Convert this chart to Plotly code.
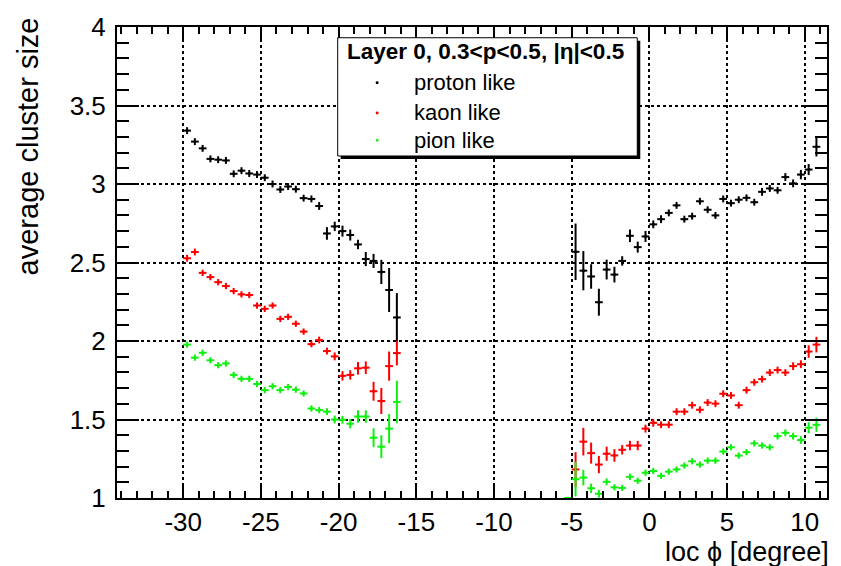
import plotly.graph_objects as go

# ---------------- data ----------------
phi_left = [-29.75, -29.25, -28.75, -28.25, -27.75, -27.25, -26.75, -26.25, -25.75, -25.25,
            -24.75, -24.25, -23.75, -23.25, -22.75, -22.25, -21.75, -21.25, -20.75, -20.25,
            -19.75, -19.25, -18.75, -18.25, -17.75, -17.25, -16.75, -16.25]
phi_right = [-4.75, -4.25, -3.75, -3.25, -2.75, -2.25, -1.75, -1.25, -0.75, -0.25,
             0.25, 0.75, 1.25, 1.75, 2.25, 2.75, 3.25, 3.75, 4.25, 4.75,
             5.25, 5.75, 6.25, 6.75, 7.25, 7.75, 8.25, 8.75, 9.25, 9.75, 10.25, 10.75]
phi_right_pion = [-5.25, -4.75, -4.25, -3.75, -3.25, -2.75, -2.25, -1.75, -1.25, -0.75, -0.25,
                  0.25, 0.75, 1.25, 1.75, 2.25, 2.75, 3.25, 3.75, 4.25, 4.75,
                  5.25, 5.75, 6.25, 6.75, 7.25, 7.75, 8.25, 8.75, 9.25, 9.75, 10.25, 10.75]

proton_left = [3.34, 3.27, 3.227, 3.16, 3.155, 3.15, 3.065, 3.085, 3.067, 3.06,
               3.04, 3.00, 2.965, 2.984, 2.967, 2.91, 2.905, 2.86, 2.685, 2.73,
               2.70, 2.675, 2.615, 2.522, 2.51, 2.44, 2.325, 2.15]
proton_left_err = [0.022, 0.022, 0.022, 0.022, 0.022, 0.022, 0.022, 0.022, 0.022, 0.022,
                   0.022, 0.022, 0.022, 0.022, 0.022, 0.022, 0.022, 0.025, 0.04, 0.03,
                   0.035, 0.035, 0.03, 0.045, 0.045, 0.077, 0.14, 0.155]
proton_right = [2.568, 2.448, 2.411, 2.247, 2.455, 2.423, 2.51, 2.67, 2.598, 2.666,
                2.743, 2.776, 2.816, 2.864, 2.776, 2.795, 2.89, 2.836, 2.80, 2.905,
                2.878, 2.90, 2.912, 2.884, 2.95, 2.972, 2.96, 3.044, 3.004, 3.06, 3.092, 3.237]
proton_right_err = [0.18, 0.125, 0.078, 0.086, 0.063, 0.05, 0.03, 0.04, 0.035, 0.035,
                    0.025, 0.025, 0.022, 0.022, 0.022, 0.022, 0.022, 0.022, 0.022, 0.022,
                    0.022, 0.022, 0.022, 0.022, 0.025, 0.022, 0.022, 0.025, 0.025, 0.03, 0.035, 0.062]

kaon_left = [2.527, 2.567, 2.434, 2.407, 2.375, 2.35, 2.318, 2.297, 2.293, 2.226,
             2.205, 2.226, 2.141, 2.154, 2.11, 2.06, 1.98, 2.006, 1.936, 1.902,
             1.778, 1.784, 1.826, 1.83, 1.68, 1.618, 1.84, 1.923]
kaon_left_err = [0.022, 0.022, 0.02, 0.02, 0.02, 0.02, 0.02, 0.02, 0.02, 0.02,
                 0.02, 0.02, 0.02, 0.02, 0.02, 0.02, 0.02, 0.022, 0.022, 0.025,
                 0.03, 0.03, 0.04, 0.04, 0.06, 0.083, 0.093, 0.078]
kaon_right = [1.182, 1.359, 1.286, 1.213, 1.282, 1.271, 1.307, 1.334, 1.334, 1.442,
              1.479, 1.467, 1.467, 1.55, 1.55, 1.591, 1.562, 1.608, 1.601, 1.664,
              1.653, 1.591, 1.687, 1.737, 1.757, 1.799, 1.815, 1.799, 1.84, 1.852, 1.933, 1.977]
kaon_right_err = [0.11, 0.088, 0.067, 0.055, 0.045, 0.04, 0.03, 0.03, 0.03, 0.025,
                  0.025, 0.022, 0.022, 0.022, 0.022, 0.022, 0.022, 0.022, 0.022, 0.022,
                  0.022, 0.022, 0.022, 0.022, 0.022, 0.022, 0.022, 0.022, 0.025, 0.025, 0.04, 0.05]

pion_left = [1.977, 1.894, 1.925, 1.877, 1.846, 1.857, 1.784, 1.759, 1.759, 1.726,
             1.687, 1.712, 1.687, 1.707, 1.69, 1.666, 1.57, 1.56, 1.55, 1.50,
             1.498, 1.473, 1.519, 1.519, 1.384, 1.327, 1.442, 1.612]
pion_left_err = [0.02, 0.02, 0.02, 0.02, 0.02, 0.02, 0.02, 0.02, 0.02, 0.02,
                 0.02, 0.02, 0.02, 0.02, 0.02, 0.02, 0.02, 0.02, 0.022, 0.025,
                 0.025, 0.03, 0.04, 0.04, 0.06, 0.073, 0.093, 0.135]
pion_right = [1.0, 1.12, 1.13, 1.062, 1.027, 1.103, 1.068, 1.064, 1.135, 1.11, 1.161,
              1.172, 1.141, 1.168, 1.182, 1.207, 1.234, 1.213, 1.238, 1.238, 1.296,
              1.323, 1.27, 1.292, 1.348, 1.334, 1.323, 1.394, 1.415, 1.394, 1.369, 1.448, 1.466]
pion_right_err = [0.0, 0.11, 0.05, 0.03, 0.025, 0.022, 0.02, 0.02, 0.02, 0.02, 0.02,
                  0.02, 0.02, 0.02, 0.02, 0.02, 0.02, 0.02, 0.02, 0.02, 0.02,
                  0.02, 0.02, 0.02, 0.02, 0.02, 0.02, 0.022, 0.022, 0.022, 0.025, 0.035, 0.045]

series_names = ["proton like", "kaon like", "pion like"]
series_colors = ["#000000", "#ff0000", "#10f010"]

x_tick_vals = [-30, -25, -20, -15, -10, -5, 0, 5, 10]
x_tick_text = ["-30", "-25", "-20", "-15", "-10", "-5", "0", "5", "10"]
y_tick_vals = [1, 1.5, 2, 2.5, 3, 3.5, 4]
y_tick_text = ["1", "1.5", "2", "2.5", "3", "3.5", "4"]

header_text = "Layer 0, 0.3<p<0.5, |η|<0.5"
x_title = "loc ϕ [degree]"
y_title = "average cluster size"

FONT = "Liberation Sans, Arial, sans-serif"

# ---------------- figure ----------------
fig = go.Figure()

data_sets = [
    (phi_left + phi_right, proton_left + proton_right, proton_left_err + proton_right_err),
    (phi_left + phi_right, kaon_left + kaon_right, kaon_left_err + kaon_right_err),
    (phi_left + phi_right_pion, pion_left + pion_right, pion_left_err + pion_right_err),
]

for (xs, ys, es), name, col in zip(data_sets, series_names, series_colors):
    fig.add_trace(go.Scatter(
        x=xs, y=ys, mode="markers", name=name, showlegend=False,
        marker=dict(color=col, size=3),
        error_y=dict(type="data", array=es, color=col, thickness=2, width=0),
        error_x=dict(type="constant", value=0.25, color=col, thickness=2, width=0),
    ))

axis_common = dict(
    showline=True, linecolor="black", linewidth=2, mirror="ticks",
    ticks="inside", tickcolor="black", tickwidth=1.5,
    showgrid=True, gridcolor="black", griddash="dot", gridwidth=1.5,
    zeroline=False, tickfont=dict(family=FONT, size=26, color="black"),
)

fig.update_layout(
    width=841, height=566,
    margin=dict(l=117, r=13, t=16, b=68),
    paper_bgcolor="white", plot_bgcolor="white",
    font=dict(family=FONT, color="black"),
    xaxis=dict(range=[-34.26, 11.43], tickmode="array", tickvals=x_tick_vals, ticktext=x_tick_text,
               ticklen=14, ticklabelstandoff=0,
               minor=dict(dtick=1, tick0=0, ticks="inside", ticklen=7, tickwidth=1.5,
                          tickcolor="black", showgrid=False),
               **axis_common),
    yaxis=dict(range=[1, 4], tickmode="array", tickvals=y_tick_vals, ticktext=y_tick_text,
               ticklen=22, ticklabelstandoff=4,
               minor=dict(dtick=0.1, tick0=1, ticks="inside", ticklen=12, tickwidth=1.5,
                          tickcolor="black", showgrid=False),
               **axis_common),
)

W, H = 711.0, 482.0
L0, T0 = 117.0, 16.0
def px(x):
    return (x - L0) / W
def py(y):
    return 1 - (y - T0) / H

# axis titles (ROOT style: placed at the end of the axis)
fig.add_annotation(text=y_title, xref="paper", yref="paper", x=px(28), y=py(4),
                   xanchor="center", yanchor="top", textangle=-90, showarrow=False,
                   font=dict(family=FONT, size=29, color="black"))
fig.add_annotation(text=x_title, xref="paper", yref="paper", x=px(832), y=py(553),
                   xanchor="right", yanchor="middle", showarrow=False,
                   font=dict(family=FONT, size=27, color="black"))

# legend box (with ROOT-like shadow)
fig.add_shape(type="rect", xref="paper", yref="paper",
              x0=px(341), x1=px(641), y0=py(151), y1=py(30),
              fillcolor="black", line=dict(width=0), layer="above")
fig.add_shape(type="rect", xref="paper", yref="paper",
              x0=px(338), x1=px(638), y0=py(148), y1=py(27),
              fillcolor="white", line=dict(color="black", width=1), layer="above")
fig.add_annotation(text="<b>" + header_text + "</b>", xref="paper", yref="paper",
                   x=px(345), y=py(41), xanchor="left", yanchor="middle", showarrow=False,
                   font=dict(family=FONT, size=22.5, color="black"))
entry_y = [73, 104, 132]
for name, col, ey in zip(series_names, series_colors, entry_y):
    fig.add_shape(type="circle", xref="paper", yref="paper",
                  x0=px(376), x1=px(379), y0=py(ey + 1.5), y1=py(ey - 1.5),
                  fillcolor=col, line=dict(width=0), layer="above")
    fig.add_annotation(text=name, xref="paper", yref="paper",
                       x=px(412), y=py(ey), xanchor="left", yanchor="middle", showarrow=False,
                       font=dict(family=FONT, size=22, color="black"))

fig.write_html("out.html")
